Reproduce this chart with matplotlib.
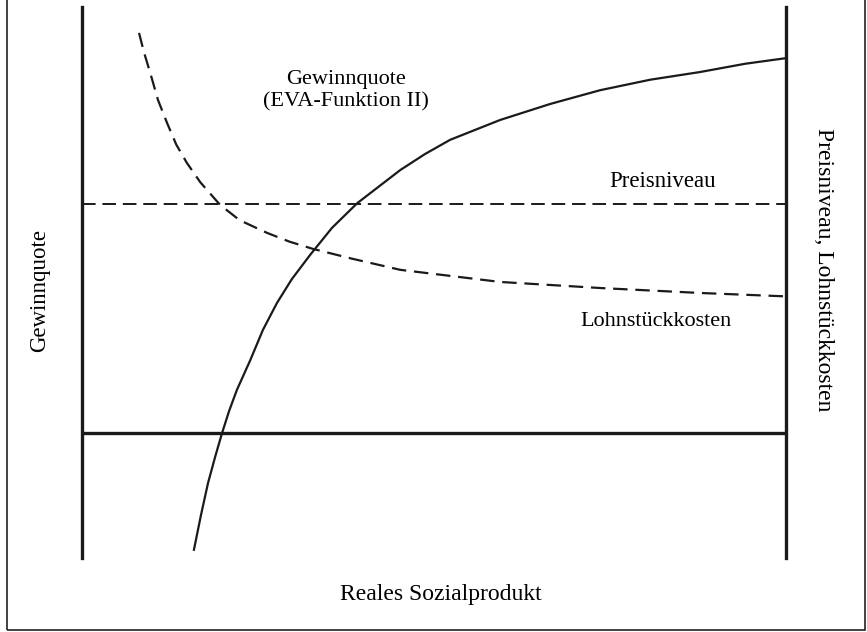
import matplotlib
matplotlib.use("Agg")
import matplotlib.pyplot as plt
from matplotlib.patches import Rectangle

# Data (x: Reales Sozialprodukt 0..100, y: 0..100)
lohn_x = [8.1, 8.8, 9.7, 10.8, 12.1, 13.4, 14.9, 16.8, 19.6, 22.4, 26.3, 29.5, 32.8,
          38.1, 45.2, 59.4, 73.6, 87.8, 99.6]
lohn_y = [95.3, 91.8, 88.0, 83.1, 78.9, 75.0, 71.7, 68.2, 64.1, 61.3, 59.0, 57.4, 56.1,
          54.4, 52.3, 50.1, 49.0, 48.1, 47.5]

gewinn_x = [15.9, 16.9, 17.9, 18.9, 19.9, 20.9, 22.0, 23.9, 25.7, 27.7, 29.8, 32.4, 35.5,
            39.1, 45.2, 48.7, 52.3, 59.4, 66.5, 73.6, 80.7, 87.8, 94.2, 99.9]
gewinn_y = [1.5, 7.8, 13.6, 18.3, 22.7, 26.7, 30.5, 35.9, 41.4, 46.3, 50.6, 55.0, 59.9,
            64.4, 70.4, 73.3, 75.9, 79.5, 82.4, 84.9, 86.8, 88.2, 89.7, 90.7]

preisniveau = 64.2
gewinnquote_base = 22.7

W, H = 867, 632
fig = plt.figure(figsize=(W / 100, H / 100), dpi=100)
plt.rcParams['font.family'] = ['Liberation Serif', 'DejaVu Serif']

# outer frame
fig.add_artist(Rectangle((7 / W, 2 / H), (865 - 7) / W, 1.0, transform=fig.transFigure,
                         fill=False, lw=1.2, ec='#222222'))

ax = fig.add_axes([82 / W, (H - 558) / H, (786 - 82) / W, (558 - 7) / H])
ax.set_xlim(0, 100)
ax.set_ylim(0, 100)
ax.set_xticks([])
ax.set_yticks([])
for s in ['top', 'bottom']:
    ax.spines[s].set_visible(False)
for s in ['left', 'right']:
    ax.spines[s].set_linewidth(2.4)
    ax.spines[s].set_color('#1a1a1a')

ax.axhline(gewinnquote_base, color='#1a1a1a', lw=2.4)
ax.axhline(preisniveau, color='#1a1a1a', lw=1.4, linestyle=(0, (7, 3.5)))
ax.plot(lohn_x, lohn_y, color='#1a1a1a', lw=1.6, linestyle=(0, (6.5, 3.5)),
        solid_joinstyle='round')
ax.plot(gewinn_x, gewinn_y, color='#1a1a1a', lw=1.6, solid_joinstyle='round')

ax.text(37.5, 84.8, "Gewinnquote\n(EVA-Funktion II)", ha='center', va='center',
        fontsize=16, multialignment='center', linespacing=1.25)
ax.text(82.5, 68.4, "Preisniveau", ha='center', va='center', fontsize=16.5)
ax.text(81.5, 43.0, "Lohnstückkosten", ha='center', va='center', fontsize=16)
ax.text(50.9, -6.6, "Reales Sozialprodukt", ha='center', va='center', fontsize=17,
        clip_on=False)
ax.text(-6.0, 48.6, "Gewinnquote", ha='center', va='center', rotation=90, fontsize=16.5,
        clip_on=False)
ax.text(105.3, 52.3, "Preisniveau, Lohnstückkosten", ha='center', va='center',
        rotation=-90, fontsize=17, clip_on=False)

fig.savefig("out.png", dpi=100)
